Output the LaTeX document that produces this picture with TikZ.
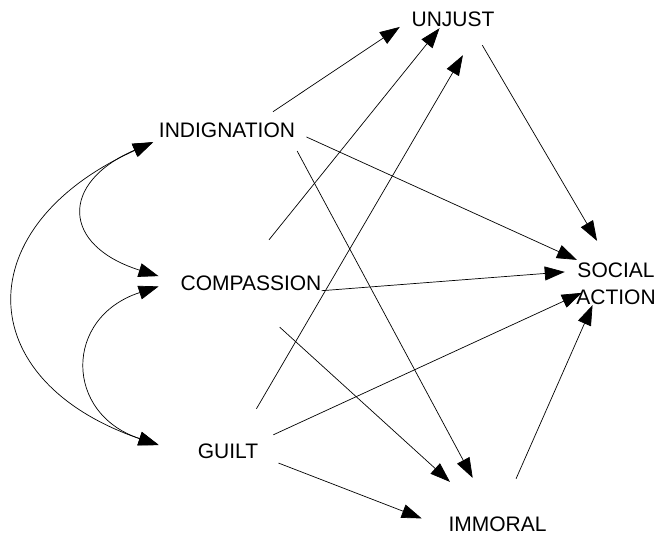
\documentclass[tikz,border=0pt]{standalone}
\usepackage{fontspec}
\setmainfont{Liberation Sans}
\usetikzlibrary{arrows.meta}

\begin{document}
\begin{tikzpicture}[x=1pt, y=-1pt,
    word/.style={inner sep=0pt, text height=15pt, text depth=0pt, font=\fontsize{21}{27}\selectfont},
    link/.style={-{Triangle[length=20pt,width=14pt]}, line width=0.7pt},
    twoway/.style={{Triangle[length=20pt,width=14pt]}-{Triangle[length=20pt,width=14pt]}, line width=0.7pt}]
    \useasboundingbox (0,0) rectangle (660,541);
    \node[word] (unjust) at (453,18.5) {UNJUST};
    \node[word] (indig) at (227,129.5) {INDIGNATION};
    \node[word] (comp) at (251,283) {COMPASSION};
    \node[word] (guilt) at (228,451) {GUILT};
    \node[inner sep=0pt, align=center, font=\fontsize{21}{27}\selectfont] (social) at (616,284) {SOCIAL\\ACTION};
    \node[word] (immoral) at (497.5,523.5) {IMMORAL};

    \draw[link, shorten <=18.1pt, shorten >=13.9pt] (indig.14.1) -- (unjust.181.1);
    \draw[link, shorten <=45.6pt, shorten >=2.6pt] (comp.144.7) -- (unjust.213.3);
    \draw[link, shorten <=40pt, shorten >=33.6pt] (guilt.43.9) -- (unjust.344.5);
    \draw[link, shorten <=22pt, shorten >=25.5pt] (unjust.337.3) -- (social.106.2);
    \draw[link, shorten <=12.3pt, shorten >=7.2pt] (indig.358) -- (social.147.1);
    \draw[link, shorten <=15.8pt, shorten >=43pt] (indig.353.5) -- (immoral.120.4);
    \draw[link, shorten >=11.4pt] (comp.south east) -- (social.162);
    \draw[link, shorten <=54.2pt, shorten >=50.4pt] (comp.214.3) -- (immoral.143.7);
    \draw[link, shorten <=20.4pt, shorten >=-6.2pt] (guilt.16.4) -- (social.196.3);
    \draw[link, shorten <=21.6pt, shorten >=28.5pt] (guilt.352.4) -- (immoral.186.9);
    \draw[link, shorten <=40.5pt] (immoral.74.4) -- (social.222.4);

    \draw[twoway, shorten <=12.5pt, shorten >=22.9pt] (indig.187.4) .. controls +(-105,45.7) and +(-118.7,-37.4) .. (comp.180.7);
    \draw[twoway, shorten <=22.9pt, shorten >=41.1pt] (comp.177.5) .. controls +(-117,38.1) and +(-133.5,-43.5) .. (guilt.192.2);
    \draw[twoway, shorten <=12.2pt, shorten >=41.4pt] (indig.187.4) .. controls +(-196,88.3) and +(-229,-79) .. (guilt.south west);
\end{tikzpicture}
\end{document}
